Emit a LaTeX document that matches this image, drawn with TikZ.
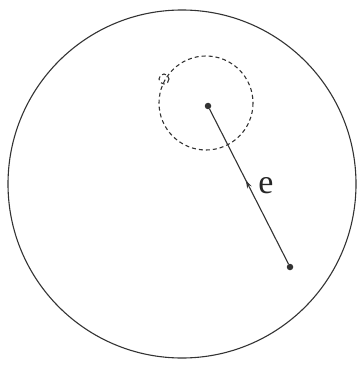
\documentclass[tikz,border=0pt]{standalone}
\usepackage{fontspec}
\setmainfont{Liberation Serif}
\usetikzlibrary{decorations.markings,arrows.meta}
\tikzset{
  ln/.style={line width=1.1pt, draw=black!80},
  dotn/.style={circle, fill=black!80, inner sep=0pt, minimum size=6.5pt},
  dashc/.style={line width=1.1pt, draw=black!80, dash pattern=on 4pt off 3pt},
  midarrow/.style={postaction={decorate}, decoration={markings, mark=at position 0.54 with {\arrow{Stealth[length=8pt,width=5pt]}}}}
}
\begin{document}
\begin{tikzpicture}[x=1pt,y=-1pt]
\useasboundingbox (0,0) rectangle (362,366);
\coordinate (O) at (182,184);
\node[dotn] (C) at (208,106) {};
\node[dotn] (P) at (290,267) {};
\draw[ln] (O) circle (174);
\draw[dashc] (206,103) circle (47);
\draw[dashc] (164,79) circle (5);
\draw[ln, midarrow] (P) -- (C);
\node[font=\fontsize{34}{36}\selectfont, inner sep=0pt, text=black!85] (e) at (266,186) {e};
\end{tikzpicture}
\end{document}
